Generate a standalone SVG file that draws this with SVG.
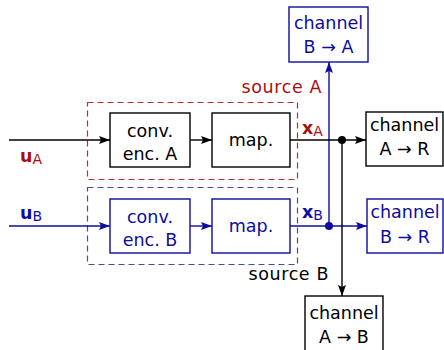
<svg xmlns="http://www.w3.org/2000/svg" width="444" height="350" viewBox="0 0 444 350">
  <defs>
    <marker id="ahK" viewBox="0 0 11 8" refX="11" refY="4" markerWidth="11" markerHeight="8" markerUnits="userSpaceOnUse" orient="auto">
      <path d="M0,0 L11,4 L0,8 L2,4 Z" fill="#000"/>
    </marker>
    <marker id="ahB" viewBox="0 0 11 8" refX="11" refY="4" markerWidth="11" markerHeight="8" markerUnits="userSpaceOnUse" orient="auto">
      <path d="M0,0 L11,4 L0,8 L2,4 Z" fill="#0c0ca0"/>
    </marker>
    <style>
      text { font-family: "DejaVu Sans", "Liberation Sans", sans-serif; font-size: 17.5px; }
      .lbl { text-anchor: middle; }
      .box { fill: #fff; stroke-width: 1.4; }
      .k { stroke: #000; }
      .b { stroke: #0c0ca0; }
      .tk { fill: #000; }
      .tb { fill: #0c0ca0; }
      .tr { fill: #a81010; }
      .wire { fill: none; stroke-width: 1.4; }
      .grp { fill: none; stroke-width: 1.2; stroke-dasharray: 6 4; }
      .sub { font-size: 14px; }
      .src { letter-spacing: 0.6px; }
    </style>
  </defs>

  <!-- source groups (dashed frames) -->
  <g id="sourceA">
    <rect class="grp" x="87.5" y="102.5" width="210" height="77" stroke="#b53030"/>
    <text class="tr src" x="322" y="93" text-anchor="end">source A</text>
  </g>
  <g id="sourceB">
    <rect class="grp" x="87.5" y="187.5" width="210" height="77" stroke="#4a4aa8"/>
    <text class="tk src" x="329" y="280" text-anchor="end">source B</text>
  </g>

  <!-- connectors -->
  <g id="connectors">
    <!-- path A (black) -->
    <line class="wire k" x1="9" y1="140" x2="110" y2="140" marker-end="url(#ahK)"/>
    <line class="wire k" x1="190" y1="140" x2="212" y2="140" marker-end="url(#ahK)"/>
    <!-- blue branch B -> A sits under the black A trunk -->
    <line class="wire b" x1="329" y1="226" x2="329" y2="62" marker-end="url(#ahB)"/>
    <line class="wire k" x1="290" y1="140" x2="366" y2="140" marker-end="url(#ahK)"/>
    <!-- path B (blue) -->
    <line class="wire b" x1="9" y1="226" x2="110" y2="226" marker-end="url(#ahB)"/>
    <line class="wire b" x1="190" y1="226" x2="212" y2="226" marker-end="url(#ahB)"/>
    <line class="wire b" x1="290" y1="226" x2="367" y2="226" marker-end="url(#ahB)"/>
    <!-- black branch A -> B -->
    <line class="wire k" x1="342" y1="140" x2="342" y2="296" marker-end="url(#ahK)"/>
    <circle cx="342" cy="140" r="4" fill="#000"/>
    <circle cx="329" cy="226" r="4" fill="#0c0ca0"/>
    <!-- signal labels -->
    <text class="tr" x="20" y="162"><tspan font-weight="bold">u</tspan><tspan class="sub" dy="2">A</tspan></text>
    <text class="tb" x="20" y="219"><tspan font-weight="bold">u</tspan><tspan class="sub" dy="2">B</tspan></text>
    <text class="tr" x="302" y="134"><tspan font-weight="bold">x</tspan><tspan class="sub" dy="2">A</tspan></text>
    <text class="tb" x="302" y="218"><tspan font-weight="bold">x</tspan><tspan class="sub" dy="2">B</tspan></text>
  </g>

  <!-- nodes -->
  <g id="encA">
    <rect class="box k" x="110" y="113" width="80" height="54"/>
    <text class="lbl tk" x="150" y="137">conv.</text>
    <text class="lbl tk" x="150" y="160">enc. A</text>
  </g>
  <g id="mapA">
    <rect class="box k" x="212" y="113" width="78" height="54"/>
    <text class="lbl tk" x="251" y="146">map.</text>
  </g>
  <g id="encB">
    <rect class="box b" x="110" y="199" width="80" height="54"/>
    <text class="lbl tb" x="150" y="223">conv.</text>
    <text class="lbl tb" x="150" y="246">enc. B</text>
  </g>
  <g id="mapB">
    <rect class="box b" x="212" y="199" width="78" height="54"/>
    <text class="lbl tb" x="251" y="232">map.</text>
  </g>
  <g id="chAR">
    <rect class="box k" x="366" y="112" width="77" height="54"/>
    <text class="lbl tk" x="404.5" y="131">channel</text>
    <text class="lbl tk" x="404.5" y="155">A → R</text>
  </g>
  <g id="chBR">
    <rect class="box b" x="367" y="199" width="76" height="54"/>
    <text class="lbl tb" x="405" y="218">channel</text>
    <text class="lbl tb" x="405" y="243">B → R</text>
  </g>
  <g id="chBA">
    <rect class="box b" x="289" y="7" width="79" height="55"/>
    <text class="lbl tb" x="328.5" y="29">channel</text>
    <text class="lbl tb" x="328.5" y="53">B → A</text>
  </g>
  <g id="chAB">
    <rect class="box k" x="305" y="296" width="78" height="60"/>
    <text class="lbl tk" x="344" y="319">channel</text>
    <text class="lbl tk" x="344" y="343">A → B</text>
  </g>
</svg>
